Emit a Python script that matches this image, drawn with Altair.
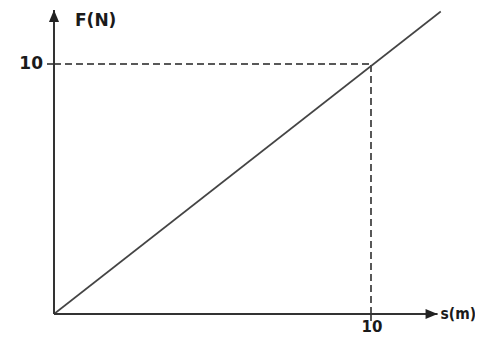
import altair as alt
import pandas as pd

# values
axis_end_x = 12.1      # s-axis arrow tip
axis_end_y = 12.16     # F-axis arrow tip
line_s = [0, 12.2]     # F = s graph
line_f = [0, 12.1]
mark_s = 10            # marked point
mark_f = 10
x_label = "s(m)"
y_label = "F(N)"
tick_labels = ["10", "10"]

XD = [-1.4511, 13.2808]
YD = [-0.88, 12.24]
xs = alt.Scale(domain=XD, nice=False, zero=False)
ys = alt.Scale(domain=YD, nice=False, zero=False)
AX = "#333333"
TXT = "#1a1a1a"
FONT = "DejaVu Sans"

def X(f="x"):
    return alt.X(f"{f}:Q", scale=xs, axis=None)

def Y(f="y"):
    return alt.Y(f"{f}:Q", scale=ys, axis=None)

axes_df = pd.DataFrame({"x": [0, 0], "y": [0, 0], "x2": [axis_end_x, 0], "y2": [0, axis_end_y]})
axes = alt.Chart(axes_df).mark_rule(color=AX, strokeWidth=2).encode(
    x=X(), y=Y(), x2="x2:Q", y2="y2:Q")

line_df = pd.DataFrame({"x": line_s, "y": line_f})
line = alt.Chart(line_df).mark_line(color="#444444", strokeWidth=1.6).encode(x=X(), y=Y())

dash_df = pd.DataFrame({"x": [0, mark_s], "y": [mark_f, 0], "x2": [mark_s, mark_s], "y2": [mark_f, mark_f]})
dashes = alt.Chart(dash_df).mark_rule(color="#222222", strokeWidth=1.5, strokeDash=[7, 4]).encode(
    x=X(), y=Y(), x2="x2:Q", y2="y2:Q")

tick_y = alt.Chart(pd.DataFrame({"x": [0], "y": [mark_f]})).mark_rule(
    color="#222222", strokeWidth=1.5, xOffset=-7, x2Offset=0).encode(
    x=X(), y=Y(), x2="x:Q")
tick_x = alt.Chart(pd.DataFrame({"x": [mark_s], "y": [0]})).mark_rule(
    color="#222222", strokeWidth=1.5, yOffset=7, y2Offset=0).encode(
    x=X(), y=Y(), y2="y:Q")

up = alt.Chart(pd.DataFrame({"x": [0], "y": [axis_end_y]})).mark_point(
    shape="M0,0L-0.42,1L0.42,1Z", size=576, filled=True, color="#222222", opacity=1).encode(x=X(), y=Y())
right = alt.Chart(pd.DataFrame({"x": [axis_end_x], "y": [0]})).mark_point(
    shape="M0,0L-1,-0.42L-1,0.42Z", size=576, filled=True, color="#222222", opacity=1).encode(x=X(), y=Y())

ylab = alt.Chart(pd.DataFrame({"x": [0], "y": [axis_end_y], "t": [y_label]})).mark_text(
    font=FONT, fontWeight="bold", fontSize=17, color=TXT, align="left", baseline="middle",
    dx=21, dy=11).encode(x=X(), y=Y(), text="t:N")
xlab = alt.Chart(pd.DataFrame({"x": [axis_end_x], "y": [0], "t": [x_label]})).mark_text(
    font="DejaVu Sans Condensed", fontWeight="bold", fontSize=15.5, color=TXT, align="left",
    baseline="middle", dx=3, dy=0).encode(x=X(), y=Y(), text="t:N")
ytick = alt.Chart(pd.DataFrame({"x": [0], "y": [mark_f], "t": [tick_labels[1]]})).mark_text(
    font=FONT, fontWeight="bold", fontSize=17, color=TXT, align="right", baseline="middle",
    dx=-11, dy=0).encode(x=X(), y=Y(), text="t:N")
xtick = alt.Chart(pd.DataFrame({"x": [mark_s], "y": [0], "t": [tick_labels[0]]})).mark_text(
    font=FONT, fontWeight="bold", fontSize=15, color=TXT, align="center", baseline="middle",
    dx=1, dy=13).encode(x=X(), y=Y(), text="t:N")

chart = alt.layer(dashes, tick_y, tick_x, line, axes, up, right, ylab, xlab, ytick, xtick).properties(
    width=467, height=328, padding=0, autosize=alt.AutoSizeParams(type="none"),
    background="white").configure_view(stroke=None)

chart.save("out.html", embed_options={"renderer": "svg", "actions": False})
